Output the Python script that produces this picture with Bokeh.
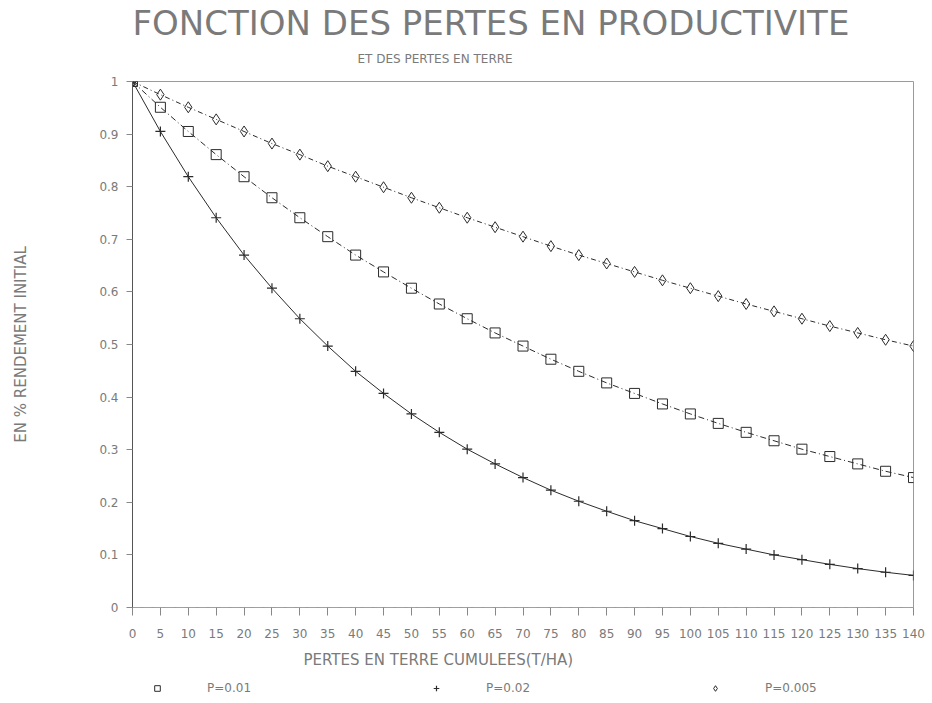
from bokeh.plotting import figure
from bokeh.layouts import column
from bokeh.models import (FixedTicker, Title, Legend, LegendItem, ColumnDataSource,
                          Range1d, Label)
from bokeh.embed import file_html
from bokeh.resources import INLINE

# Cumulative soil loss (t/ha)
pertes = [0, 5, 10, 15, 20, 25, 30, 35, 40, 45, 50, 55, 60, 65, 70,
          75, 80, 85, 90, 95, 100, 105, 110, 115, 120, 125, 130, 135, 140]

# Yield as a fraction of the initial yield, one series per loss coefficient P
rend_p001 = [1.0, 0.951, 0.905, 0.861, 0.819, 0.779, 0.741, 0.705, 0.670, 0.638,
             0.607, 0.577, 0.549, 0.522, 0.497, 0.472, 0.449, 0.427, 0.407, 0.387,
             0.368, 0.350, 0.333, 0.317, 0.301, 0.287, 0.273, 0.259, 0.247]
rend_p002 = [1.0, 0.905, 0.819, 0.741, 0.670, 0.607, 0.549, 0.497, 0.449, 0.407,
             0.368, 0.333, 0.301, 0.273, 0.247, 0.223, 0.202, 0.183, 0.165, 0.150,
             0.135, 0.122, 0.111, 0.100, 0.091, 0.082, 0.074, 0.067, 0.061]
rend_p0005 = [1.0, 0.975, 0.951, 0.928, 0.905, 0.882, 0.861, 0.839, 0.819, 0.799,
              0.779, 0.760, 0.741, 0.723, 0.705, 0.687, 0.670, 0.654, 0.638, 0.622,
              0.607, 0.592, 0.577, 0.563, 0.549, 0.535, 0.522, 0.509, 0.497]

series_labels = ["P=0.01", "P=0.02", "P=0.005"]
y_ticks = [0, 0.1, 0.2, 0.3, 0.4, 0.5, 0.6, 0.7, 0.8, 0.9, 1]

FONT = "DejaVu Sans"
TXT = "#7a7a7a"
INK = "#2b2b2b"

src = ColumnDataSource(dict(x=pertes, a=rend_p001, b=rend_p002, c=rend_p0005))


def strip(height, y_range):
    f = figure(width=932, height=height, output_backend="svg", toolbar_location=None,
               x_range=Range1d(0, 1), y_range=y_range,
               x_axis_type=None, y_axis_type=None, min_border=0)
    f.outline_line_color = None
    f.background_fill_color = "white"
    f.border_fill_color = "white"
    return f


# Header with the title and subtitle (its frame lines up with the chart's frame)
head = strip(72, Range1d(0, 1))
head.add_layout(Label(x=0, y=50, x_units="screen", y_units="screen",
                      text="FONCTION DES PERTES EN PRODUCTIVITE",
                      text_font=FONT, text_font_size="34px", text_color=TXT,
                      text_baseline="middle", text_align="left"))
head.add_layout(Label(x=225, y=14, x_units="screen", y_units="screen",
                      text="ET DES PERTES EN TERRE",
                      text_font=FONT, text_font_size="12px", text_color=TXT,
                      text_baseline="middle", text_align="left"))

# Main chart
p = figure(width=932, height=609, output_backend="svg", toolbar_location=None,
           x_range=Range1d(0, 140), y_range=Range1d(0, 1),
           min_border_left=132, min_border_right=19,
           min_border_top=9, min_border_bottom=74)
p.background_fill_color = "white"
p.border_fill_color = "white"
p.outline_line_color = "#9a9a9a"
p.outline_line_width = 1
p.xgrid.visible = False
p.ygrid.visible = False

p.line("x", "a", source=src, line_color=INK, line_width=1, line_dash="6 3 1 3")
p.line("x", "b", source=src, line_color=INK, line_width=1)
p.line("x", "c", source=src, line_color=INK, line_width=1, line_dash="5 3 1 3")
p.scatter("x", "a", source=src, marker="square", size=10,
          line_color=INK, fill_color=None, line_width=1)
p.scatter("x", "b", source=src, marker="cross", size=10,
          line_color=INK, line_width=1.2)
p.scatter("x", "c", source=src, marker="diamond", size=11,
          line_color=INK, fill_color=None, line_width=1)

xa = p.xaxis[0]
xa.ticker = FixedTicker(ticks=pertes)
xa.minor_tick_line_color = None
xa.major_tick_out = 8
xa.major_tick_in = 0
xa.major_tick_line_color = "#888888"
xa.axis_line_color = "#a0a0a0"
xa.axis_line_dash = "8 3"
xa.major_label_text_font = FONT
xa.major_label_text_font_size = "12px"
xa.major_label_text_color = TXT
xa.major_label_standoff = 13

ya = p.yaxis[0]
ya.ticker = FixedTicker(ticks=y_ticks)
ya.major_label_overrides = {0: "0", 1: "1"}
ya.minor_tick_line_color = None
ya.major_tick_out = 6
ya.major_tick_in = 0
ya.major_tick_line_color = "#888888"
ya.axis_line_color = "#555555"
ya.major_label_text_font = FONT
ya.major_label_text_font_size = "12px"
ya.major_label_text_color = TXT
ya.major_label_standoff = 8
ya.axis_label = "EN % RENDEMENT INITIAL"
ya.axis_label_text_font = FONT
ya.axis_label_text_font_size = "15px"
ya.axis_label_text_font_style = "normal"
ya.axis_label_text_color = TXT
ya.axis_label_standoff = 66

# X axis title, set under the tick labels
p.add_layout(Title(text="PERTES EN TERRE CUMULEES(T/HA)", align="left", offset=171,
                   text_font=FONT, text_font_size="15px", text_font_style="normal",
                   text_color=TXT, standoff=17), "below")

# Legend strip under the chart; its markers sit outside the strip's ranges
leg = strip(22, Range1d(5, 6))
k1 = leg.scatter("x", "a", source=src, marker="square", size=10,
                 line_color=INK, fill_color=None, line_width=1)
k2 = leg.scatter("x", "b", source=src, marker="cross", size=10,
                 line_color=INK, line_width=1.2)
k3 = leg.scatter("x", "c", source=src, marker="diamond", size=11,
                 line_color=INK, fill_color=None, line_width=1)
legend = Legend(items=[LegendItem(label=series_labels[0], renderers=[k1]),
                       LegendItem(label=series_labels[1], renderers=[k2]),
                       LegendItem(label=series_labels[2], renderers=[k3])],
                orientation="horizontal", location=(15, 8),
                label_text_font=FONT, label_text_font_size="12px",
                label_text_color=TXT, label_standoff=40, spacing=175,
                glyph_width=20, glyph_height=14, label_height=14,
                padding=0, margin=0,
                border_line_color=None, background_fill_alpha=0)
leg.add_layout(legend, "center")

page = column(head, p, leg, spacing=0)
open("out.html", "w").write(file_html(page, INLINE))
